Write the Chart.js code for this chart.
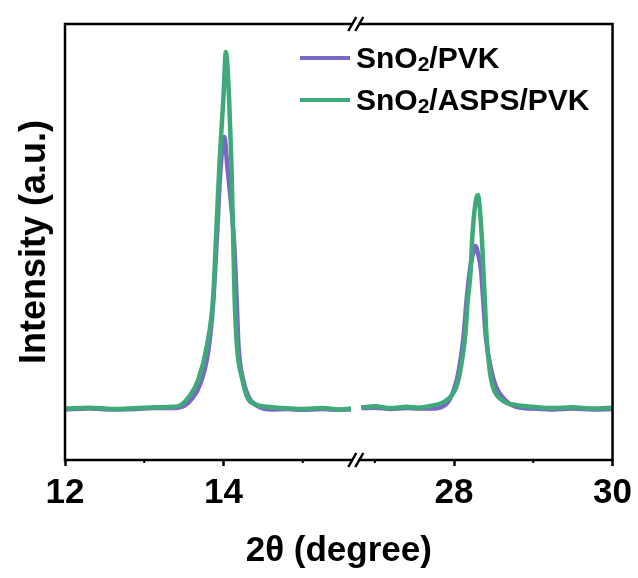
<!DOCTYPE html>
<html>
<head>
<meta charset="utf-8">
<script src="https://cdn.jsdelivr.net/npm/chart.js@4.4.0/dist/chart.umd.min.js"></script>
<style>
  html, body { margin: 0; padding: 0; background: #fff; }
  #wrap { position: relative; width: 638px; height: 578px; }
  #legend { position: absolute; left: 300px; top: 37px; font: bold 30px Arial, "Liberation Sans", sans-serif; color: #000; }
  .row { display: flex; align-items: center; height: 42px; white-space: nowrap; }
  .swatch { width: 50px; height: 4px; margin-right: 6px; }
  sub { font-size: 0.7em; position: relative; top: 0.3em; vertical-align: baseline; line-height: 0; }
</style>
</head>
<body>
<div id="wrap">
  <canvas id="xrd" width="638" height="578"></canvas>
  <div id="legend"></div>
</div>
<script>
// === Series ===
const seriesNames = ['SnO2/PVK', 'SnO2/ASPS/PVK'];
const seriesColors = ['#7a68c6', '#3fa97a'];

// === Axis break: left segment 12..15.67, right segment 26.76..30 ===
const leftRange = [12, 15.67];
const rightRange = [26.76, 30];
const leftTicks = [12, 14];
const rightTicks = [28, 30];
const leftMinor = [13, 15];
const rightMinor = [27, 29];

// === SnO2/PVK (purple) ===
const purpleLeftX = [12.00, 12.30, 12.60, 12.90, 13.15, 13.35, 13.50, 13.60, 13.71, 13.81, 13.87, 13.92, 13.96, 14.01, 14.05, 14.10, 14.14, 14.165, 14.19, 14.25, 14.32, 14.45, 14.60, 14.80, 15.00, 15.25, 15.45, 15.61];
const purpleLeftY = [11.6, 11.8, 11.6, 11.7, 11.9, 11.9, 12.4, 14.0, 17.6, 25.2, 36.0, 52.0, 66.0, 74.1, 67.0, 58.0, 48.0, 37.4, 26.1, 18.3, 14.4, 12.2, 11.6, 11.7, 11.5, 11.7, 11.5, 11.6];
const purpleRightX = [26.83, 27.00, 27.20, 27.40, 27.55, 27.70, 27.90, 28.01, 28.06, 28.12, 28.155, 28.20, 28.24, 28.27, 28.30, 28.34, 28.37, 28.40, 28.47, 28.53, 28.64, 28.78, 29.00, 29.25, 29.50, 29.75, 30.00];
const purpleRightY = [11.9, 12.0, 11.7, 11.9, 11.8, 11.8, 12.8, 16.8, 20.6, 28.3, 36.0, 43.6, 47.5, 49.1, 47.5, 43.6, 36.0, 28.3, 20.6, 16.8, 13.8, 12.2, 11.8, 11.6, 11.8, 11.6, 11.7];

// === SnO2/ASPS/PVK (green) ===
const greenLeftX = [12.00, 12.30, 12.60, 12.90, 13.15, 13.35, 13.46, 13.56, 13.68, 13.79, 13.87, 13.91, 13.95, 14.00, 14.03, 14.07, 14.10, 14.12, 14.14, 14.17, 14.24, 14.30, 14.40, 14.55, 14.75, 15.00, 15.25, 15.45, 15.61];
const greenLeftY = [11.8, 12.0, 11.7, 11.9, 12.1, 12.2, 12.6, 14.4, 18.3, 26.1, 37.4, 52.8, 68.1, 83.3, 93.6, 83.3, 68.1, 52.8, 37.4, 26.1, 18.3, 14.4, 12.8, 12.2, 11.9, 11.7, 11.9, 11.6, 11.8];
const greenRightX = [26.83, 27.00, 27.20, 27.40, 27.55, 27.70, 27.91, 28.03, 28.08, 28.14, 28.17, 28.21, 28.23, 28.30, 28.35, 28.37, 28.39, 28.41, 28.45, 28.49, 28.60, 28.78, 29.00, 29.25, 29.50, 29.75, 30.00];
const greenRightY = [12.1, 12.3, 11.9, 12.2, 12.0, 12.4, 13.8, 16.8, 20.6, 28.3, 36.0, 43.6, 51.2, 60.8, 51.2, 43.6, 36.0, 28.3, 20.6, 16.8, 13.8, 12.6, 12.2, 11.9, 12.1, 11.8, 12.0];

const FONT = 'Arial, "Liberation Sans", sans-serif';
Chart.defaults.font.family = FONT;
Chart.defaults.color = '#000';

// === Helpers ===
const toPoints = (xs, ys) => xs.map((x, i) => ({ x, y: ys[i] }));
const line = (label, color, xs, ys, axis, order) => ({
  label, data: toPoints(xs, ys), xAxisID: axis, yAxisID: 'y',
  borderColor: color, backgroundColor: color, showLine: true,
  pointRadius: 0, borderWidth: 4.5, cubicInterpolationMode: 'monotone', order
});

const datasets = [
  line(seriesNames[1], seriesColors[1], greenLeftX, greenLeftY, 'x1', 1),
  line(seriesNames[1], seriesColors[1], greenRightX, greenRightY, 'x2', 1),
  line(seriesNames[0], seriesColors[0], purpleLeftX, purpleLeftY, 'x1', 2),
  line(seriesNames[0], seriesColors[0], purpleRightX, purpleRightY, 'x2', 2)
];

const xScale = (range, ticks) => ({
  type: 'linear', position: 'bottom', stack: 'broken', stackWeight: range[1] - range[0],
  min: range[0], max: range[1],
  afterBuildTicks: s => { s.ticks = ticks.map(v => ({ value: v })); },
  afterFit: s => { s.height = 70; },
  ticks: { font: { size: 35, weight: 'bold' }, color: '#000', padding: 6, autoSkip: false, maxRotation: 0 },
  grid: { drawOnChartArea: false, drawTicks: true, tickLength: 6, tickWidth: 2.5, tickColor: '#000' },
  border: { display: false }
});

// === Frame, minor ticks and break marks ===
const framePlugin = {
  id: 'frame',
  afterDraw(chart) {
    const { ctx, chartArea: a, scales } = chart;
    ctx.save();
    ctx.strokeStyle = '#000';
    ctx.lineWidth = 2.5;
    ctx.strokeRect(a.left, a.top, a.right - a.left, a.bottom - a.top);
    ctx.lineWidth = 2;
    [['x1', leftMinor], ['x2', rightMinor]].forEach(([id, vals]) => {
      vals.forEach(v => {
        const px = scales[id].getPixelForValue(v);
        ctx.beginPath();
        ctx.moveTo(px, a.bottom);
        ctx.lineTo(px, a.bottom + 3);
        ctx.stroke();
      });
    });
    const bx = scales.x1.right;
    [a.top, a.bottom].forEach(y => {
      ctx.fillStyle = '#fff';
      ctx.fillRect(bx - 3, y - 3, 6, 6);
      ctx.lineWidth = 2.5;
      [-3.5, 3.5].forEach(dx => {
        ctx.beginPath();
        ctx.moveTo(bx + dx - 4, y + 7);
        ctx.lineTo(bx + dx + 4, y - 7);
        ctx.stroke();
      });
    });
    ctx.restore();
  }
};

new Chart(document.getElementById('xrd'), {
  type: 'scatter',
  data: { datasets },
  options: {
    responsive: false,
    animation: false,
    layout: { padding: { top: 24, right: 24, bottom: 6, left: 0 } },
    plugins: {
      legend: { display: false },
      tooltip: { enabled: false },
      title: {
        display: true, text: '2θ (degree)', position: 'bottom', fullSize: false, align: 'center',
        color: '#000', font: { size: 35, weight: 'bold', lineHeight: 1.2 }, padding: 0
      }
    },
    scales: {
      x1: xScale(leftRange, leftTicks),
      x2: xScale(rightRange, rightTicks),
      y: {
        min: 0, max: 100,
        ticks: { display: false },
        grid: { display: false },
        border: { display: false },
        afterFit: s => { s.width = 65; },
        title: { display: true, text: 'Intensity (a.u.)', color: '#000', font: { size: 36, weight: 'bold', lineHeight: 1.2 }, padding: { top: 13, bottom: 0 } }
      }
    }
  },
  plugins: [framePlugin]
});

// === HTML legend (for the subscript) ===
document.getElementById('legend').innerHTML = seriesNames.map((n, i) => `
  <div class="row"><span class="swatch" style="background:${seriesColors[i]}"></span>${n.replace('O2', 'O<sub>2</sub>')}</div>`).join('');
</script>
</body>
</html>
